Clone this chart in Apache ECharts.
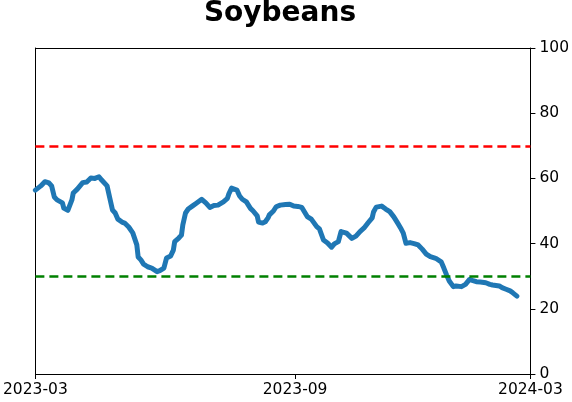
<!DOCTYPE html>
<html>
<head>
<meta charset="utf-8">
<script src="https://cdn.jsdelivr.net/npm/echarts@6/dist/echarts.min.js"></script>
<style>
html, body { margin: 0; padding: 0; background: #fff; }
#chart { width: 572px; height: 402px; }
</style>
</head>
<body>
<div id="chart"></div>
<script>
// days counted from 2023-03-01
var days = [0, 4, 7, 10, 12, 14, 16, 20, 21, 24, 27, 28, 31, 35, 38, 41, 44, 47, 49, 53,
	55, 57, 59, 61, 64, 66, 69, 72, 75, 76, 78, 80, 83, 86, 90, 92, 95, 97, 100, 102,
	103, 106, 108, 109, 111, 113, 116, 119, 123, 126, 129, 132, 135, 139, 142, 143, 145, 149, 151, 153,
	156, 159, 161, 164, 165, 166, 168, 170, 172, 173, 176, 178, 181, 185, 188, 191, 194, 197, 199, 201,
	204, 208, 210, 213, 216, 219, 221, 224, 226, 230, 234, 237, 240, 243, 246, 249, 250, 252, 256, 259,
	262, 265, 268, 270, 272, 274, 277, 280, 283, 286, 289, 292, 296, 300, 302, 304, 306, 309, 311, 315,
	318, 321, 323, 326, 329, 333, 336, 338, 343, 345, 348, 351, 353, 356];
var values = [56.4, 57.7, 59.0, 58.6, 57.7, 54.3, 53.4, 52.5, 50.9, 50.2, 53.4, 55.5, 56.7, 58.7, 58.9, 60.1, 60.0, 60.5, 59.5, 57.7,
	54.0, 50.3, 49.4, 47.5, 46.6, 46.3, 45.1, 43.3, 39.6, 35.9, 35.0, 33.7, 32.9, 32.5, 31.4, 31.7, 32.5, 35.6, 36.2, 38.0,
	40.6, 41.7, 42.6, 45.7, 49.4, 50.6, 51.5, 52.4, 53.6, 52.5, 51.1, 51.7, 51.8, 52.8, 53.9, 55.2, 57.0, 56.4, 54.6, 53.6,
	52.8, 50.8, 50.0, 48.5, 46.6, 46.0, 46.3, 46.7, 47.9, 48.8, 50.0, 51.3, 51.8, 52.0, 52.1, 51.5, 51.4, 51.1, 49.7, 48.3,
	47.5, 45.2, 44.5, 41.1, 40.2, 38.9, 39.9, 40.6, 43.7, 43.2, 41.6, 42.3, 43.7, 44.8, 46.4, 47.9, 49.7, 51.2, 51.5, 50.6,
	49.8, 48.2, 46.2, 44.8, 43.2, 40.1, 40.3, 40.0, 39.6, 38.3, 36.8, 36.0, 35.5, 34.4, 32.5, 30.4, 28.5, 26.8, 27.0, 26.8,
	27.5, 29.0, 28.7, 28.3, 28.2, 28.0, 27.5, 27.3, 27.0, 26.5, 26.0, 25.5, 24.9, 23.9];
var xTickDays = [0, 192, 366];
var xTickLabels = ['2023-03', '2023-09', '2024-03'];
var upperLevel = 70;
var lowerLevel = 30;

var myChart = echarts.init(document.getElementById('chart'));

var lineData = [];
for (var i = 0; i < days.length; i++) {
	lineData.push([days[i], values[i]]);
}

// plain frame line for the top and left sides
var frameAxis = {
	axisLine: { show: true, onZero: false, lineStyle: { color: '#000', width: 1 } },
	axisTick: { show: false },
	axisLabel: { show: false },
	splitLine: { show: false }
};

var option = {
	animation: false,
	backgroundColor: '#ffffff',
	title: {
		text: 'Soybeans',
		left: 280,
		textAlign: 'center',
		top: 0,
		padding: 0,
		textStyle: {
			fontFamily: 'DejaVu Sans',
			fontWeight: 'bold',
			fontSize: 28,
			color: '#000'
		}
	},
	grid: {
		left: 35,
		right: 41,
		top: 48,
		bottom: 28,
		show: false
	},
	xAxis: [{
		type: 'value',
		min: 0,
		max: 366,
		position: 'bottom',
		splitLine: { show: false },
		axisLine: { show: true, onZero: false, lineStyle: { color: '#000', width: 1 } },
		axisTick: { show: true, customValues: xTickDays, length: 5, lineStyle: { color: '#000' } },
		axisLabel: {
			customValues: xTickDays,
			margin: 8,
			fontFamily: 'DejaVu Sans',
			fontSize: 15.5,
			color: '#000',
			showMinLabel: true,
			showMaxLabel: true,
			formatter: function(v) {
				var k = xTickDays.indexOf(v);
				return k >= 0 ? xTickLabels[k] : '';
			}
		}
	}, Object.assign({ type: 'value', min: 0, max: 366, position: 'top' }, frameAxis)],
	yAxis: [{
		type: 'value',
		position: 'right',
		min: 0,
		max: 100,
		interval: 20,
		splitLine: { show: false },
		axisLine: { show: true, onZero: false, lineStyle: { color: '#000', width: 1 } },
		axisTick: { show: true, length: 5, lineStyle: { color: '#000' } },
		axisLabel: {
			margin: 9,
			fontFamily: 'DejaVu Sans',
			fontSize: 15.5,
			color: '#000'
		}
	}, Object.assign({ type: 'value', min: 0, max: 100, position: 'left' }, frameAxis)],
	series: [{
		type: 'line',
		data: lineData,
		showSymbol: false,
		symbol: 'none',
		lineStyle: { color: '#1f77b4', width: 5, cap: 'round', join: 'round' },
		z: 3,
		markLine: {
			silent: true,
			symbol: 'none',
			label: { show: false },
			data: [
				{ yAxis: upperLevel, lineStyle: { color: '#ff0000', width: 2.5, type: [9, 5] } },
				{ yAxis: lowerLevel, lineStyle: { color: '#008000', width: 2.5, type: [9, 5] } }
			]
		}
	}]
};

myChart.setOption(option);
</script>
</body>
</html>
